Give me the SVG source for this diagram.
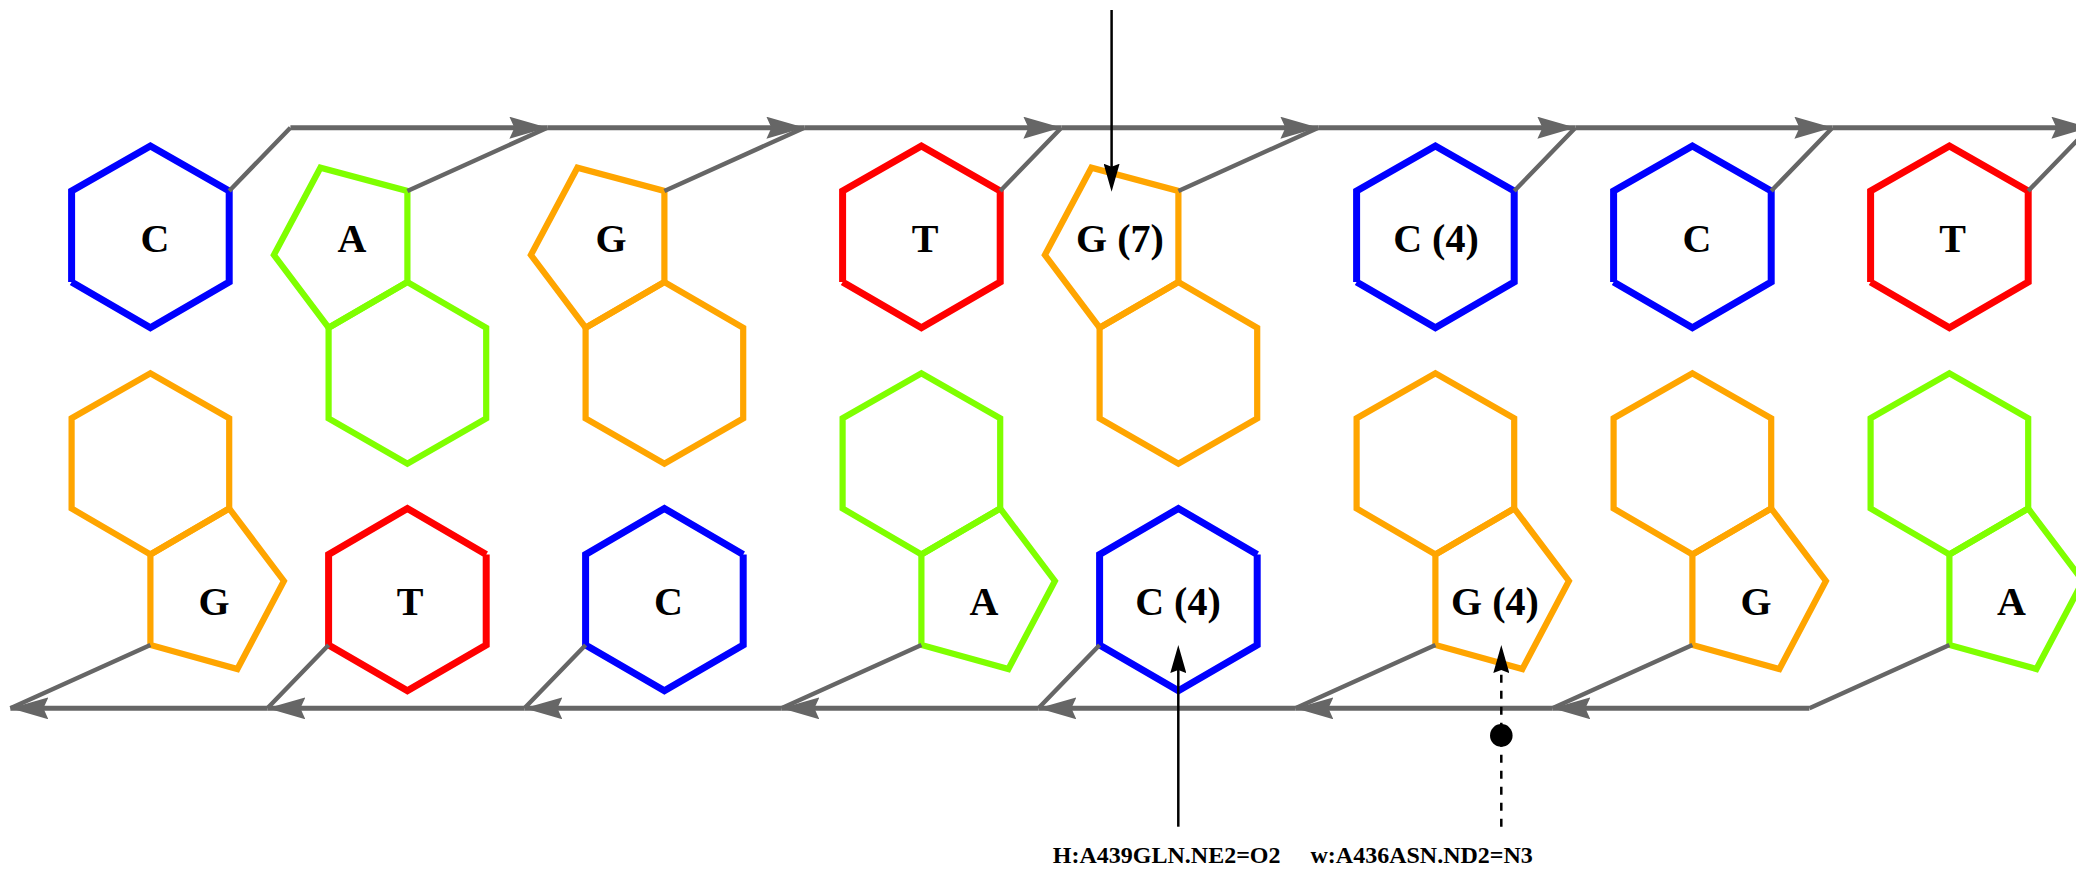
<svg xmlns="http://www.w3.org/2000/svg" width="2076" height="869" viewBox="0 0 2076 869">
<style>
text{font-family:"Liberation Serif","Times New Roman",serif;font-weight:bold;fill:#000;text-anchor:middle}
.b{font-size:40px}
.l{font-size:24px}
polyline,polygon.r{fill:none;stroke-linejoin:miter}
.C *{stroke:#0000ff}.T *{stroke:#ff0000}.G *{stroke:#ffa500}.A *{stroke:#7fff00}
.C polyline,.T polyline{stroke-width:7}
.G polygon.r,.A polygon.r{stroke-width:6.2}
.C text,.T text,.G text,.A text{stroke:none}
.bb{fill:none;stroke:#666;stroke-width:5}
.bbm{marker-end:url(#gh)}
.lk{fill:none;stroke:#666;stroke-width:4.4}
.hb{fill:none;stroke:#000;stroke-width:2.5}
.hbm{marker-end:url(#kh)}
</style>
<defs>
<marker id="gh" markerUnits="userSpaceOnUse" markerWidth="38" markerHeight="22" viewBox="0 0 38 22" refX="38" refY="11" orient="auto"><polygon points="0,0 38,11 0,22 5,11" fill="#666"/></marker>
<marker id="kh" markerUnits="userSpaceOnUse" markerWidth="28" markerHeight="16" viewBox="0 0 28 16" refX="18" refY="8" orient="auto"><polygon points="0,0 28,8 0,16 3,8" fill="#000"/></marker>
</defs>
<g id="n-top0" class="C"><polyline points="71.6,282 150.4,327.7 229.2,282 229.2,191 150.4,146 71.6,191 71.6,282"/><text class="b" x="155" y="252">C</text></g>
<g id="n-top1" class="A"><polygon class="r" points="328.6,418.5 328.6,327.7 407.4,282 486.2,327.7 486.2,418.5 407.4,463.7"/><polygon class="r" points="328.6,327.7 407.4,282 407.4,191 320.4,167.7 273.9,255"/><text class="b" x="352" y="252">A</text></g>
<g id="n-top2" class="G"><polygon class="r" points="585.6,418.5 585.6,327.7 664.4,282 743.2,327.7 743.2,418.5 664.4,463.7"/><polygon class="r" points="585.6,327.7 664.4,282 664.4,191 577.4,167.7 530.9,255"/><text class="b" x="611" y="252">G</text></g>
<g id="n-top3" class="T"><polyline points="842.6,282 921.4,327.7 1000.2,282 1000.2,191 921.4,146 842.6,191 842.6,282"/><text class="b" x="925" y="252">T</text></g>
<g id="n-top4" class="G"><polygon class="r" points="1099.6,418.5 1099.6,327.7 1178.4,282 1257.2,327.7 1257.2,418.5 1178.4,463.7"/><polygon class="r" points="1099.6,327.7 1178.4,282 1178.4,191 1091.4,167.7 1044.9,255"/><text class="b" x="1120" y="252">G (7)</text></g>
<g id="n-top5" class="C"><polyline points="1356.6,282 1435.4,327.7 1514.2,282 1514.2,191 1435.4,146 1356.6,191 1356.6,282"/><text class="b" x="1436" y="252">C (4)</text></g>
<g id="n-top6" class="C"><polyline points="1613.6,282 1692.4,327.7 1771.2,282 1771.2,191 1692.4,146 1613.6,191 1613.6,282"/><text class="b" x="1697" y="252">C</text></g>
<g id="n-top7" class="T"><polyline points="1870.6,282 1949.4,327.7 2028.2,282 2028.2,191 1949.4,146 1870.6,191 1870.6,282"/><text class="b" x="1952.5" y="252">T</text></g>
<g id="n-bot0" class="G"><polygon class="r" points="71.6,418.3 150.4,373.3 229.2,418.3 229.2,508.5 150.4,554.5 71.6,508.5"/><polygon class="r" points="229.2,508.5 150.4,554.5 150.4,645 237.4,669 283.9,581"/><text class="b" x="214" y="615">G</text></g>
<g id="n-bot1" class="T"><polyline points="486.2,554.5 407.4,508.5 328.6,554.5 328.6,645 407.4,690.7 486.2,645 486.2,554.5"/><text class="b" x="410" y="615">T</text></g>
<g id="n-bot2" class="C"><polyline points="743.2,554.5 664.4,508.5 585.6,554.5 585.6,645 664.4,690.7 743.2,645 743.2,554.5"/><text class="b" x="668.5" y="615">C</text></g>
<g id="n-bot3" class="A"><polygon class="r" points="842.6,418.3 921.4,373.3 1000.2,418.3 1000.2,508.5 921.4,554.5 842.6,508.5"/><polygon class="r" points="1000.2,508.5 921.4,554.5 921.4,645 1008.4,669 1054.9,581"/><text class="b" x="984" y="615">A</text></g>
<g id="n-bot4" class="C"><polyline points="1257.2,554.5 1178.4,508.5 1099.6,554.5 1099.6,645 1178.4,690.7 1257.2,645 1257.2,554.5"/><text class="b" x="1178" y="615">C (4)</text></g>
<g id="n-bot5" class="G"><polygon class="r" points="1356.6,418.3 1435.4,373.3 1514.2,418.3 1514.2,508.5 1435.4,554.5 1356.6,508.5"/><polygon class="r" points="1514.2,508.5 1435.4,554.5 1435.4,645 1522.4,669 1568.9,581"/><text class="b" x="1495" y="615">G (4)</text></g>
<g id="n-bot6" class="G"><polygon class="r" points="1613.6,418.3 1692.4,373.3 1771.2,418.3 1771.2,508.5 1692.4,554.5 1613.6,508.5"/><polygon class="r" points="1771.2,508.5 1692.4,554.5 1692.4,645 1779.4,669 1825.9,581"/><text class="b" x="1756" y="615">G</text></g>
<g id="n-bot7" class="A"><polygon class="r" points="1870.6,418.3 1949.4,373.3 2028.2,418.3 2028.2,508.5 1949.4,554.5 1870.6,508.5"/><polygon class="r" points="2028.2,508.5 1949.4,554.5 1949.4,645 2036.4,669 2082.9,581"/><text class="b" x="2011.5" y="615">A</text></g>
<g id="connectors">
<path class="lk" d="M229.2,191L290.4,127.7M407.4,191L547.4,127.7M664.4,191L804.4,127.7M1000.2,191L1061.4,127.7M1178.4,191L1318.4,127.7M1514.2,191L1575.4,127.7M1771.2,191L1832.4,127.7M2028.2,191L2089.4,127.7"/>
<path class="lk" d="M150.4,645L10.4,708.3M328.6,645L267.4,708.3M585.6,645L524.4,708.3M921.4,645L781.4,708.3M1099.6,645L1038.4,708.3M1435.4,645L1295.4,708.3M1692.4,645L1552.4,708.3M1949.4,645L1809.4,708.3"/>
<line class="bb bbm" x1="290.4" y1="127.7" x2="547.4" y2="127.7"/>
<line class="bb bbm" x1="547.4" y1="127.7" x2="804.4" y2="127.7"/>
<line class="bb bbm" x1="804.4" y1="127.7" x2="1061.4" y2="127.7"/>
<line class="bb bbm" x1="1061.4" y1="127.7" x2="1318.4" y2="127.7"/>
<line class="bb bbm" x1="1318.4" y1="127.7" x2="1575.4" y2="127.7"/>
<line class="bb bbm" x1="1575.4" y1="127.7" x2="1832.4" y2="127.7"/>
<line class="bb bbm" x1="1832.4" y1="127.7" x2="2089.4" y2="127.7"/>
<line class="bb bbm" x1="1809.4" y1="708.3" x2="1552.4" y2="708.3"/>
<line class="bb bbm" x1="1552.4" y1="708.3" x2="1295.4" y2="708.3"/>
<line class="bb bbm" x1="1295.4" y1="708.3" x2="1038.4" y2="708.3"/>
<line class="bb bbm" x1="1038.4" y1="708.3" x2="781.4" y2="708.3"/>
<line class="bb bbm" x1="781.4" y1="708.3" x2="524.4" y2="708.3"/>
<line class="bb bbm" x1="524.4" y1="708.3" x2="267.4" y2="708.3"/>
<line class="bb bbm" x1="267.4" y1="708.3" x2="10.4" y2="708.3"/>
<line class="hb hbm" x1="1111.6" y1="10" x2="1111.6" y2="181.7"/>
<line class="hb hbm" x1="1178.3" y1="826.7" x2="1178.3" y2="655"/>
<line class="hb hbm" x1="1501.3" y1="826.7" x2="1501.3" y2="655" stroke-dasharray="8 8"/>
<circle cx="1501.3" cy="735.4" r="11.3" fill="#000"/>
</g>
<g id="labels">
<text class="l" x="1166.7" y="863.3">H:A439GLN.NE2=O2</text>
<text class="l" x="1421.7" y="863.3">w:A436ASN.ND2=N3</text>
</g>
</svg>
